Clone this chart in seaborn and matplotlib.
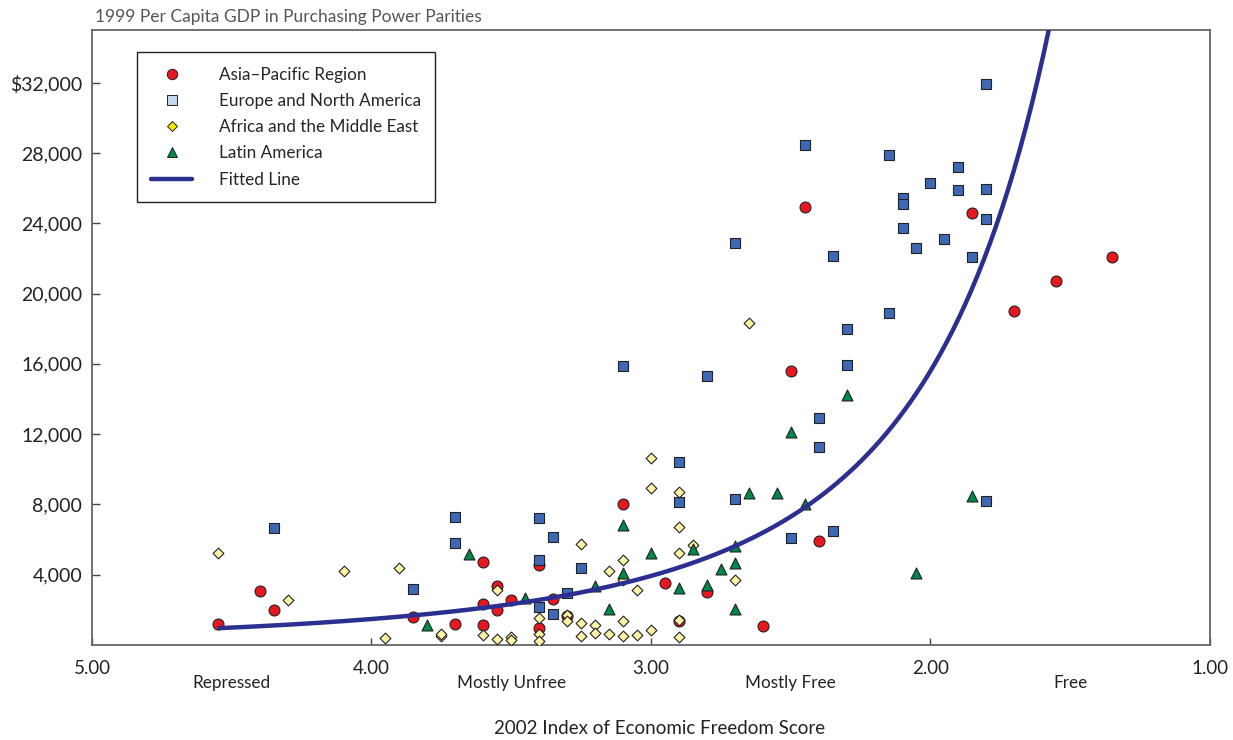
import numpy as np
import pandas as pd
import matplotlib
matplotlib.use("Agg")
import matplotlib.pyplot as plt
from matplotlib.lines import Line2D
import seaborn as sns

# Values: (freedom score, 1999 GDP per capita in PPP $)
asia_score = [4.55, 4.40, 4.35, 3.85, 3.70, 3.60, 3.60, 3.60, 3.55, 3.55, 3.50, 3.40, 3.40,
              3.35, 3.30, 3.10, 2.95, 2.90, 2.80, 2.60, 2.50, 2.45, 2.40, 1.85, 1.70, 1.55, 1.35]
asia_gdp = [1200, 3090, 2000, 1600, 1200, 4740, 2340, 1140, 3370, 2000, 2570, 4570, 970,
            2630, 1660, 8000, 3540, 1370, 3030, 1090, 15600, 24900, 5890, 24570, 19030, 20740, 22060]

europe_score = [4.35, 3.85, 3.70, 3.70, 3.40, 3.40, 3.40, 3.35, 3.35, 3.30, 3.25, 3.10, 2.90,
                2.90, 2.80, 2.70, 2.70, 2.50, 2.45, 2.40, 2.40, 2.35, 2.35, 2.30, 2.30, 2.15,
                2.15, 2.10, 2.10, 2.10, 2.05, 2.00, 1.95, 1.90, 1.90, 1.85, 1.80, 1.80, 1.80, 1.80]
europe_gdp = [6630, 3200, 7260, 5830, 7200, 4860, 2170, 6170, 1770, 2970, 4400, 15890, 10400,
              8110, 15310, 8290, 22860, 6060, 28460, 11260, 12910, 6460, 22110, 15940, 18000, 27890,
              18910, 25430, 25090, 23710, 22570, 26290, 23090, 27200, 25890, 22060, 31940, 25940, 24230, 8170]

africa_score = [4.55, 4.30, 4.10, 3.90, 3.95, 3.75, 3.75, 3.60, 3.55, 3.55, 3.50, 3.50, 3.40,
                3.40, 3.40, 3.30, 3.30, 3.25, 3.25, 3.25, 3.20, 3.20, 3.15, 3.15, 3.10, 3.10,
                3.10, 3.10, 3.05, 3.05, 3.00, 3.00, 3.00, 2.90, 2.90, 2.90, 2.90, 2.90, 2.85,
                2.70, 2.65]
africa_gdp = [5260, 2570, 4230, 4400, 400, 510, 600, 570, 340, 3140, 460, 290, 1540,
              630, 230, 1710, 1370, 5770, 1260, 510, 1140, 690, 4230, 630, 4860, 3710,
              1370, 510, 3140, 570, 10630, 8910, 860, 8690, 6690, 5260, 1430, 460, 5710,
              3710, 18340]

latin_score = [3.80, 3.65, 3.45, 3.20, 3.15, 3.10, 3.10, 3.00, 2.90, 2.85, 2.80, 2.75, 2.70,
               2.70, 2.70, 2.65, 2.55, 2.50, 2.45, 2.30, 2.05, 1.85]
latin_gdp = [1140, 5200, 2690, 3370, 2060, 6800, 4110, 5260, 3260, 5490, 3430, 4340, 5660,
             4690, 2060, 8630, 8630, 12110, 8000, 14230, 4110, 8460]

# fitted line GDP = A * score^-K, coefficients
FIT_A = 164600
FIT_K = 3.4
fit_start = 4.55

regions = ["Asia\u2013Pacific Region", "Europe and North America",
           "Africa and the Middle East", "Latin America"]
band_labels = ["Repressed", "Mostly Unfree", "Mostly Free", "Free"]
band_pos = [4.5, 3.5, 2.5, 1.5]

sns.set_style("white")
plt.rcParams['font.family'] = ['Lato', 'DejaVu Sans']

fig = plt.figure(figsize=(12.33, 7.40), dpi=100)
ax = fig.add_axes([0.0746, 0.1284, 0.9067, 0.8311])

frames = [
    pd.DataFrame({"score": asia_score, "gdp": asia_gdp}),
    pd.DataFrame({"score": europe_score, "gdp": europe_gdp}),
    pd.DataFrame({"score": africa_score, "gdp": africa_gdp}),
    pd.DataFrame({"score": latin_score, "gdp": latin_gdp}),
]
styles = [
    dict(marker="o", color="#E8171F", s=62),
    dict(marker="s", color="#3E68B4", s=55),
    dict(marker="D", color="#FFF4A6", s=30),
    dict(marker="^", color="#00874A", s=62),
]
for df, st in zip(frames, styles):
    sns.scatterplot(data=df, x="score", y="gdp", ax=ax, marker=st["marker"],
                    color=st["color"], s=st["s"], edgecolor="#222222", linewidth=0.8,
                    zorder=3, legend=False)

# fitted curve
xs = np.linspace(fit_start, 1.3, 300)
ys = FIT_A * xs ** (-FIT_K)
ax.plot(xs, ys, color="#2B2F8F", lw=3.2, zorder=4, solid_capstyle="butt")

ax.set_xlim(5, 1)
ax.set_ylim(0, 35000)
ax.set_xticks([5, 4, 3, 2, 1])
ax.set_xticklabels(["5.00", "4.00", "3.00", "2.00", "1.00"])
yt = [4000, 8000, 12000, 16000, 20000, 24000, 28000, 32000]
ax.set_yticks(yt)
ax.set_yticklabels([f"{v:,}" for v in yt[:-1]] + ["$32,000"])
ax.tick_params(axis="y", direction="in", length=6, width=1, pad=7, labelsize=14,
               labelcolor="#222222", color="#444444", left=True)
ax.tick_params(axis="x", direction="in", length=5, width=1, pad=11, labelsize=13.5,
               labelcolor="#222222", color="#444444", bottom=True)
ax.set_xlabel("")
ax.set_ylabel("")
for sp in ax.spines.values():
    sp.set_color("#666666")
    sp.set_linewidth(1.3)

# freedom bands
for lab, pos in zip(band_labels, band_pos):
    ax.text(pos, -0.062, lab, transform=ax.get_xaxis_transform(), ha="center", va="center",
            fontsize=12.3, color="#222222")

ax.text(0.508, -0.135, "2002 Index of Economic Freedom Score", transform=ax.transAxes,
        ha="center", va="center", fontsize=13.5, color="#222222")
fig.text(95 / 1233, 1 - 17 / 740, "1999 Per Capita GDP in Purchasing Power Parities",
         ha="left", va="center", fontsize=12.5, color="#555555")

handles = [
    Line2D([], [], ls="none", marker="o", markersize=7.5, markerfacecolor="#E8171F",
           markeredgecolor="#222222", markeredgewidth=0.7),
    Line2D([], [], ls="none", marker="s", markersize=6.5, markerfacecolor="#C3D8EE",
           markeredgecolor="#222222", markeredgewidth=0.7),
    Line2D([], [], ls="none", marker="D", markersize=5, markerfacecolor="#F7E600",
           markeredgecolor="#222222", markeredgewidth=0.7),
    Line2D([], [], ls="none", marker="^", markersize=7, markerfacecolor="#00874A",
           markeredgecolor="#222222", markeredgewidth=0.7),
    Line2D([], [], color="#2B2F8F", lw=3.2),
]
leg = ax.legend(handles, regions + ["Fitted Line"], loc="upper left",
                bbox_to_anchor=(0.04, 0.964), borderaxespad=0, fontsize=12.3,
                frameon=True, fancybox=False, edgecolor="#222222", framealpha=1,
                handlelength=2.4, handletextpad=1.55, labelspacing=0.6, borderpad=0.85)
leg.get_frame().set_linewidth(1.0)

fig.savefig("out.png", dpi=100)
